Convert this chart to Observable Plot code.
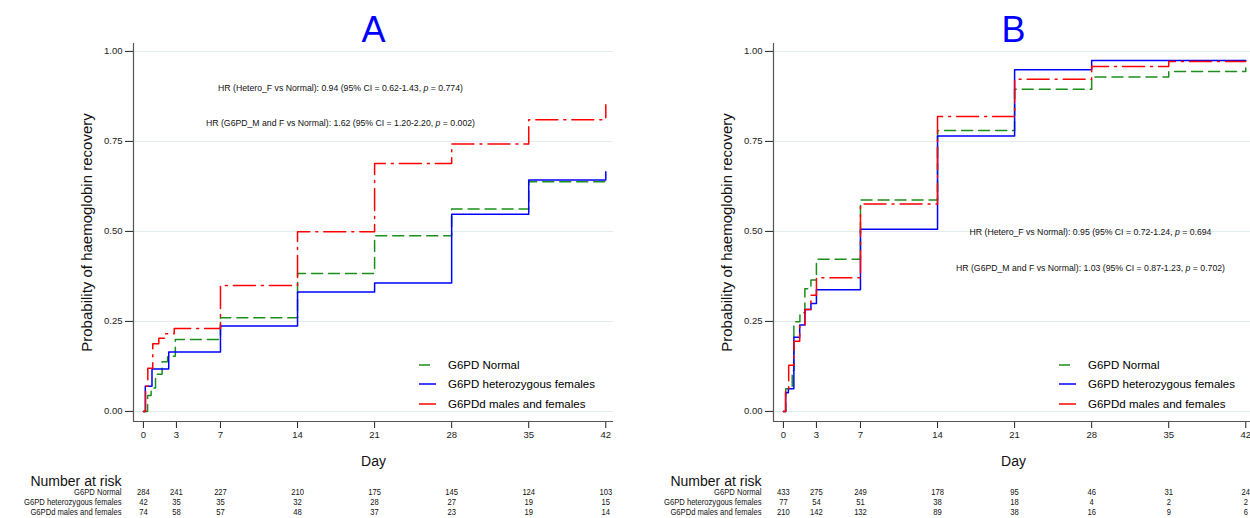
<!DOCTYPE html>
<html>
<head>
<meta charset="utf-8">
<script src="https://cdn.jsdelivr.net/npm/d3@7"></script>
<script src="https://cdn.jsdelivr.net/npm/@observablehq/plot@0.6"></script>
<style>
  html, body { margin: 0; padding: 0; background: #fff; overflow: hidden; }
  #root { position: relative; width: 1250px; height: 518px; overflow: hidden; background: #fff;
          font-family: "Liberation Sans", Arial, sans-serif; }
  .panel { position: absolute; width: 640px; }
  .panel svg { max-width: none !important; display: block; }
  .legend-row { position: absolute; height: 14px; line-height: 14px; font-size: 11.5px; color: #000; white-space: nowrap; }
  .legend-row svg { position: absolute; left: 0; top: 2px; }
  .legend-row span { position: absolute; left: 29px; top: 0; }
</style>
</head>
<body>
<div id="root"></div>
<script>
// ---------------- data ----------------
const panelTitles = ["A", "B"];
const groups = ["G6PD Normal", "G6PD heterozygous females", "G6PDd males and females"];
const dayTicks = [0, 3, 7, 14, 21, 28, 35, 42];
const probTicks = [0, 0.25, 0.5, 0.75, 1];
const xLabel = "Day";
const yLabel = "Probability of haemoglobin recovery";
const riskTitle = "Number at risk";

// Panel A – Kaplan–Meier steps (day, cumulative probability)
const aNormalDay  = [0, 0.38, 0.7, 1.1, 1.7, 2.2, 2.9, 7, 14, 21, 28, 35, 42];
const aNormalProb = [0, 0.044, 0.065, 0.103, 0.138, 0.153, 0.2, 0.26, 0.383, 0.488, 0.562, 0.638, 0.643];
const aHeteroDay  = [0, 0.17, 0.78, 2.3, 7, 14, 21, 28, 35, 42];
const aHeteroProb = [0, 0.07, 0.118, 0.165, 0.237, 0.332, 0.357, 0.548, 0.643, 0.666];
const aDefDay     = [0, 0.2, 0.4, 0.85, 1.4, 2.0, 2.8, 7, 14, 21, 28, 35, 42];
const aDefProb    = [0, 0.07, 0.12, 0.188, 0.203, 0.216, 0.23, 0.35, 0.499, 0.689, 0.743, 0.81, 0.852];

// Panel B
const bNormalDay  = [0, 0.21, 0.8, 0.95, 1.5, 1.95, 2.5, 3.0, 7, 14, 21, 28, 35, 42];
const bNormalProb = [0, 0.063, 0.114, 0.249, 0.274, 0.341, 0.365, 0.423, 0.587, 0.78, 0.895, 0.929, 0.944, 0.954];
const bHeteroDay  = [0, 0.2, 0.45, 0.95, 1.48, 1.95, 2.5, 3.0, 7, 14, 21, 28, 42];
const bHeteroProb = [0, 0.052, 0.063, 0.206, 0.24, 0.283, 0.3, 0.338, 0.506, 0.765, 0.949, 0.975, 0.975];
const bDefDay     = [0, 0.2, 0.48, 0.95, 1.48, 1.95, 2.5, 3.0, 7, 14, 21, 28, 35, 42];
const bDefProb    = [0, 0.06, 0.128, 0.195, 0.24, 0.283, 0.323, 0.371, 0.576, 0.819, 0.923, 0.958, 0.972, 0.972];

// Number at risk
const aRiskNormal = [284, 241, 227, 210, 175, 145, 124, 103];
const aRiskHetero = [42, 35, 35, 32, 28, 27, 19, 15];
const aRiskDef    = [74, 58, 57, 48, 37, 23, 19, 14];
const bRiskNormal = [433, 275, 249, 178, 95, 46, 31, 24];
const bRiskHetero = [77, 54, 51, 38, 18, 4, 2, 2];
const bRiskDef    = [210, 142, 132, 89, 38, 16, 9, 6];

// Hazard-ratio annotations
const aHR = ["HR (Hetero_F vs Normal): 0.94 (95% CI = 0.62-1.43, p = 0.774)",
             "HR (G6PD_M and F vs Normal): 1.62 (95% CI = 1.20-2.20, p = 0.002)"];
const bHR = ["HR (Hetero_F vs Normal): 0.95 (95% CI = 0.72-1.24, p = 0.694",
             "HR (G6PD_M and F vs Normal): 1.03 (95% CI = 0.87-1.23, p = 0.702)"];

// ---------------- styles ----------------
const FONT = "'Liberation Sans', Arial, Helvetica, sans-serif";
const COLORS = ["#1a8f1a", "#0000ff", "#ff0000"];
const DASHES = ["11,6", null, "22,6,2,6"];
const GRID = "#e3ebee";
const AXIS = "#555";
const X_DOMAIN = [-0.9, 42.7];
const Y_DOMAIN = [-0.028, 1.022];
const W = 640;

function toSeries(days, probs) { return days.map((d, i) => ({day: d, prob: probs[i]})); }

function italicP(svg) {
  svg.querySelectorAll("text").forEach(t => {
    const s = t.textContent;
    const k = s.indexOf("p = ");
    if (s.startsWith("HR (") && k > 0) {
      t.textContent = "";
      const ns = "http://www.w3.org/2000/svg";
      const a = document.createElementNS(ns, "tspan"); a.textContent = s.slice(0, k);
      const b = document.createElementNS(ns, "tspan"); b.textContent = "p"; b.setAttribute("font-style", "italic");
      const c = document.createElementNS(ns, "tspan"); c.textContent = s.slice(k + 1);
      t.append(a, b, c);
    }
  });
}

function mainPlot(title, seriesList, hr, hrDx, hrDy) {
  const svg = Plot.plot({
    width: W, height: 471,
    marginLeft: 133, marginRight: 27, marginTop: 43, marginBottom: 50,
    style: {fontFamily: FONT, fontSize: "9.5px", color: "#222", background: "transparent", overflow: "visible"},
    x: {domain: X_DOMAIN, ticks: dayTicks, tickSize: 7, tickPadding: 3, label: null, tickFormat: d => String(d)},
    y: {domain: Y_DOMAIN, ticks: probTicks, tickSize: 8, tickPadding: 3, label: null, tickFormat: d3.format(".2f")},
    marks: [
      Plot.ruleY(probTicks, {stroke: GRID, strokeWidth: 1}),
      Plot.ruleX([X_DOMAIN[0]], {stroke: AXIS, strokeWidth: 1.2}),
      Plot.ruleY([Y_DOMAIN[0]], {stroke: AXIS, strokeWidth: 1.2}),
      ...seriesList.map((s, i) => Plot.line(s, {
        x: "day", y: "prob", curve: "step-after",
        stroke: COLORS[i], strokeWidth: 1.5, strokeDasharray: DASHES[i] || undefined
      })),
      Plot.text([title], {frameAnchor: "top", textAnchor: "middle", lineAnchor: "middle", dy: -13, fontSize: 36, fill: "#0000ff"}),
      Plot.text([yLabel], {frameAnchor: "left", textAnchor: "middle", lineAnchor: "middle", rotate: -90, dx: -46, fontSize: 15, fill: "#111"}),
      Plot.text([xLabel], {frameAnchor: "bottom", textAnchor: "middle", lineAnchor: "middle", dy: 40, fontSize: 14, fill: "#111"}),
      Plot.text([hr[0]], {frameAnchor: "top-left", textAnchor: "middle", lineAnchor: "middle", dx: hrDx, dy: hrDy[0], fontSize: 8.7, fill: "#111"}),
      Plot.text([hr[1]], {frameAnchor: "top-left", textAnchor: "middle", lineAnchor: "middle", dx: hrDx, dy: hrDy[1], fontSize: 8.7, fill: "#111"})
    ]
  });
  italicP(svg);
  return svg;
}

function riskPlot(counts) {
  const rows = [];
  groups.forEach((g, gi) => counts[gi].forEach((n, i) => rows.push({group: g, day: dayTicks[i], n})));
  return Plot.plot({
    width: W, height: 47,
    marginLeft: 133, marginRight: 27, marginTop: 0, marginBottom: 0,
    style: {fontFamily: FONT, fontSize: "9px", color: "#111", background: "transparent", overflow: "visible"},
    x: {domain: X_DOMAIN, axis: null},
    y: {type: "point", domain: groups, range: [21, 41.5], padding: 0, axis: null},
    marks: [
      Plot.text(rows, {x: "day", y: "group", text: d => String(d.n), fontSize: 9.3, fill: "#111"}),
      Plot.text(groups, {y: d => d, text: d => d, frameAnchor: "left", textAnchor: "end", lineAnchor: "middle", dx: -12, fontSize: 9.3, fill: "#111"}),
      Plot.text([riskTitle], {frameAnchor: "top-left", textAnchor: "end", lineAnchor: "middle", dx: -12, dy: 10.5, fontSize: 14, fill: "#111"})
    ]
  });
}

// condense the small risk-table text (the reference uses a narrow face)
function condense(svg) {
  svg.querySelectorAll("text").forEach(t => {
    if (t.textContent === riskTitle) return;
    const w = t.getComputedTextLength();
    if (w > 0) {
      t.setAttribute("textLength", (w * 0.82).toFixed(1));
      t.setAttribute("lengthAdjust", "spacingAndGlyphs");
    }
  });
}

function legend(root, left) {
  const tops = [358, 377, 397];
  groups.forEach((g, i) => {
    const row = document.createElement("div");
    row.className = "legend-row";
    row.style.left = left + "px";
    row.style.top = tops[i] + "px";
    const dash = DASHES[i] ? `stroke-dasharray="${DASHES[i]}"` : "";
    row.innerHTML = `<svg width="18" height="10"><line x1="0" x2="17" y1="5" y2="5" stroke="${COLORS[i]}" stroke-width="1.5" ${dash}></line></svg><span>${g}</span>`;
    root.appendChild(row);
  });
}

const root = document.getElementById("root");

function place(el, left, top) {
  const d = document.createElement("div");
  d.className = "panel";
  d.style.left = left + "px";
  d.style.top = top + "px";
  el.style.maxWidth = "none";
  d.appendChild(el);
  root.appendChild(d);
  return el;
}

// Panel A
place(mainPlot(panelTitles[0],
  [toSeries(aNormalDay, aNormalProb), toSeries(aHeteroDay, aHeteroProb), toSeries(aDefDay, aDefProb)],
  aHR, 207, [45, 80]), 0, 0);
condense(place(riskPlot([aRiskNormal, aRiskHetero, aRiskDef]), 0, 471));
legend(root, 419);

// Panel B
place(mainPlot(panelTitles[1],
  [toSeries(bNormalDay, bNormalProb), toSeries(bHeteroDay, bHeteroProb), toSeries(bDefDay, bDefProb)],
  bHR, 317, [189, 225]), 640, 0);
condense(place(riskPlot([bRiskNormal, bRiskHetero, bRiskDef]), 640, 471));
legend(root, 1059);
</script>
</body>
</html>
